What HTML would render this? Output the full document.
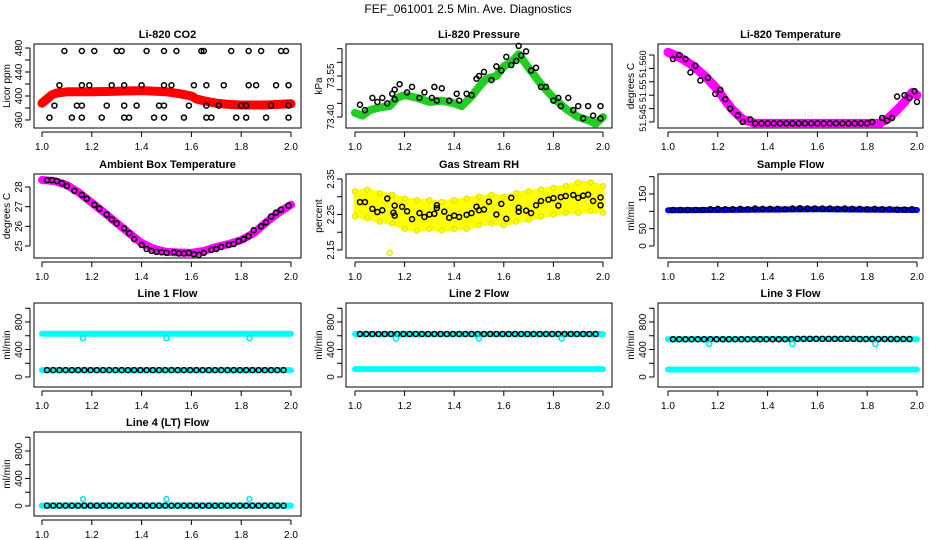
<!DOCTYPE html>
<html><head><meta charset="utf-8">
<style>
html,body{margin:0;padding:0;background:#fff;}
svg{display:block;font-family:"Liberation Sans",Arial,sans-serif;}
</style></head>
<body>
<svg id="chart" width="936" height="540" viewBox="0 0 936 540" xmlns="http://www.w3.org/2000/svg">
<rect width="936" height="540" fill="#fff"/>
<text x="468" y="13" text-anchor="middle" font-size="12">FEF_061001  2.5 Min. Ave. Diagnostics</text>
</svg>
<script>
// ---- data ----
const xTicks = [1.0,1.2,1.4,1.6,1.8,2.0];
const xTickLabels = ["1.0","1.2","1.4","1.6","1.8","2.0"];

const co2RedX = [1.0,1.02,1.04,1.06,1.1,1.2,1.3,1.4,1.5,1.55,1.6,1.62,1.65,1.7,1.75,1.8,1.9,2.0];
const co2RedY = [388,395,402,405,407,407,408,409,407,404,400,395,392,388,386,385,385,387];
const co2BlackX = [1.09,1.16,1.21,1.30,1.32,1.42,1.49,1.54,1.64,1.65,1.76,1.83,1.88,1.96,1.98,
 1.07,1.16,1.19,1.28,1.33,1.40,1.49,1.52,1.61,1.66,1.73,1.83,1.86,1.94,1.99,
 1.05,1.14,1.16,1.26,1.33,1.38,1.47,1.49,1.59,1.66,1.71,1.80,1.82,1.92,1.99,
 1.03,1.12,1.16,1.24,1.33,1.35,1.45,1.49,1.57,1.66,1.68,1.78,1.82,1.90,1.99];
const co2BlackY = [475,475,475,475,475,475,475,475,475,475,475,475,475,475,475,
 418,418,418,418,418,418,418,418,418,418,418,418,418,418,418,
 384,384,384,384,384,384,384,384,384,384,384,384,384,384,384,
 364,364,364,364,364,364,364,364,364,364,364,364,364,364,364];

const presGreenX = [1.0,1.03,1.06,1.1,1.14,1.17,1.2,1.25,1.3,1.35,1.4,1.43,1.47,1.5,1.53,1.57,1.6,1.63,1.66,1.7,1.75,1.8,1.85,1.9,1.95,1.97,2.0];
const presGreenY = [73.415,73.405,73.425,73.435,73.44,73.47,73.48,73.47,73.455,73.46,73.45,73.44,73.475,73.51,73.54,73.55,73.585,73.60,73.63,73.58,73.52,73.47,73.43,73.40,73.385,73.375,73.40];
const presBlackX = [1.02,1.04,1.07,1.09,1.11,1.13,1.16,1.15,1.16,1.18,1.21,1.23,1.26,1.28,1.31,1.32,1.33,1.35,1.38,1.41,1.42,1.45,1.47,1.49,1.50,1.52,1.55,1.57,1.59,1.61,1.63,1.65,1.66,1.67,1.69,1.71,1.73,1.75,1.77,1.80,1.82,1.83,1.86,1.88,1.90,1.92,1.94,1.96,1.99,1.99];
const presBlackY = [73.445,73.425,73.47,73.455,73.47,73.45,73.50,73.485,73.465,73.52,73.49,73.51,73.47,73.49,73.47,73.51,73.46,73.505,73.46,73.485,73.46,73.485,73.48,73.54,73.55,73.565,73.535,73.585,73.57,73.62,73.59,73.605,73.66,73.625,73.64,73.57,73.58,73.51,73.51,73.46,73.47,73.44,73.47,73.425,73.44,73.395,73.44,73.405,73.44,73.395];

const tempMagX = [1.0,1.05,1.1,1.15,1.18,1.2,1.23,1.26,1.3,1.35,1.5,1.7,1.85,1.88,1.92,1.95,1.98,2.0];
const tempMagY = [51.566,51.564,51.561,51.557,51.554,51.552,51.548,51.5445,51.541,51.5395,51.5395,51.5395,51.5395,51.541,51.5445,51.5475,51.551,51.550];
const tempBlackX = [1.02,1.045,1.07,1.09,1.11,1.13,1.16,1.19,1.21,1.23,1.25,1.28,1.30,1.33,1.35,1.375,1.4,1.425,1.45,1.475,1.5,1.525,1.55,1.575,1.6,1.625,1.65,1.675,1.7,1.725,1.75,1.775,1.8,1.82,1.86,1.88,1.90,1.92,1.95,1.97,1.99,2.0];
const tempBlackY = [51.5635,51.565,51.5635,51.5585,51.561,51.5555,51.5565,51.5505,51.552,51.5485,51.545,51.5425,51.540,51.541,51.5395,51.5395,51.5395,51.5395,51.5395,51.5395,51.5395,51.5395,51.5395,51.5395,51.5395,51.5395,51.5395,51.5395,51.5395,51.5395,51.5395,51.5395,51.5395,51.540,51.5415,51.5405,51.5415,51.5495,51.550,51.549,51.5515,51.5475];

const ambMagX = [1.0,1.05,1.1,1.15,1.2,1.25,1.3,1.35,1.4,1.45,1.5,1.55,1.6,1.65,1.7,1.75,1.8,1.85,1.9,1.95,2.0];
const ambMagY = [28.36,28.3,28.1,27.7,27.2,26.7,26.17,25.65,25.15,24.85,24.7,24.67,24.65,24.75,24.95,25.1,25.3,25.65,26.2,26.7,27.1];
const ambBlackX = [1.02,1.04,1.06,1.08,1.10,1.13,1.16,1.18,1.21,1.23,1.26,1.28,1.30,1.33,1.35,1.37,1.40,1.42,1.44,1.46,1.48,1.50,1.53,1.55,1.57,1.59,1.61,1.63,1.65,1.68,1.70,1.72,1.75,1.77,1.79,1.81,1.83,1.85,1.88,1.90,1.92,1.94,1.96,1.99];
const ambBlackY = [28.35,28.35,28.3,28.2,28.05,27.8,27.6,27.4,27.1,26.9,26.6,26.35,26.15,25.9,25.65,25.35,25.05,24.85,24.75,24.7,24.68,24.65,24.68,24.62,24.62,24.65,24.58,24.55,24.65,24.8,24.85,24.95,25.05,25.1,25.25,25.35,25.5,25.8,26.0,26.2,26.5,26.7,26.85,27.05];

const rhX = [1.0,1.05,1.1,1.15,1.2,1.25,1.3,1.35,1.4,1.45,1.5,1.55,1.6,1.65,1.7,1.75,1.8,1.85,1.9,1.95,2.0];
const rhHi = [2.315,2.32,2.31,2.305,2.295,2.29,2.29,2.285,2.29,2.295,2.3,2.305,2.3,2.31,2.315,2.32,2.325,2.33,2.34,2.34,2.33];
const rhLo = [2.245,2.24,2.23,2.225,2.21,2.205,2.21,2.205,2.21,2.21,2.22,2.225,2.22,2.23,2.235,2.245,2.25,2.255,2.255,2.26,2.255];
const rhBlackX = [1.02,1.04,1.07,1.09,1.11,1.13,1.155,1.16,1.16,1.19,1.21,1.23,1.26,1.28,1.30,1.32,1.33,1.33,1.36,1.38,1.40,1.42,1.45,1.47,1.49,1.50,1.52,1.54,1.57,1.59,1.61,1.63,1.66,1.66,1.69,1.71,1.73,1.75,1.78,1.80,1.82,1.83,1.85,1.88,1.90,1.92,1.94,1.96,1.99,1.99];
const rhBlackY = [2.285,2.285,2.266,2.257,2.262,2.295,2.255,2.275,2.247,2.272,2.259,2.237,2.254,2.243,2.25,2.252,2.276,2.268,2.258,2.241,2.247,2.243,2.249,2.254,2.272,2.262,2.264,2.286,2.25,2.28,2.238,2.297,2.269,2.258,2.261,2.254,2.276,2.288,2.292,2.296,2.275,2.299,2.302,2.305,2.297,2.303,2.306,2.288,2.298,2.276];
const rhOutX = [1.14];
const rhOutY = [2.142];

const sampleX = [1.0,1.2,1.4,1.6,1.8,2.0];
const sampleBlue = [103,104,105,106,105,104];
const sampleBlackX = [1.02,1.05,1.08,1.11,1.14,1.17,1.20,1.23,1.26,1.29,1.32,1.35,1.38,1.41,1.44,1.47,1.50,1.53,1.56,1.59,1.62,1.65,1.68,1.71,1.74,1.77,1.80,1.83,1.86,1.89,1.92,1.95,1.98];
const sampleBlackY = [104,104,104,104,104,106,107,106,106,107,106,108,107,107,107,106,108,109,108,108,108,108,107,108,107,107,106,107,106,106,105,105,106];

const flowX = [1.0,1.25,1.5,1.75,2.0];
const dipX = [1.165,1.5,1.833];
const line1Cyan = [630,630,630,630,630];
const line1Black = [100,100,100,100,100];
const line1Dips = [565,565,565];
const line2Cyan = [115,115,115,115,115];
const line2Black = [625,625,625,625,625];
const line2Dips = [560,560,560];
const line3Cyan = [110,110,110,110,110];
const line3Black = [550,550,555,552,550];
const line3Dips = [480,480,480];
const line4Cyan = [5,5,5,5,5];
const line4Black = [5,5,5,5,5];
const line4Dips = [100,100,100];

// ---- drawing ----
const svg = document.getElementById('chart');
const NS = 'http://www.w3.org/2000/svg';
function mk(tag, attrs, parent){ const e=document.createElementNS(NS,tag); for(const k in attrs) e.setAttribute(k,attrs[k]); (parent||svg).appendChild(e); return e; }
function lin(d0,d1,r0,r1){ return v => r0+(v-d0)*(r1-r0)/(d1-d0); }

const cols = [{l:34,r:301,x0:42,x1:291},{l:346,r:612,x0:355,x1:603},{l:658,r:923,x0:668,x1:917}];
const rowTops = [44,174,303,432];

function panel(o){
  const c = cols[o.col], top = rowTops[o.row], bot = top+84;
  const g = mk('g',{});
  
  
  const sx = lin(1.0,2.0,c.x0,c.x1);
  const sy = lin(o.yd[0],o.yd[1],o.yr[0](top,bot),o.yr[1](top,bot));
  const t = mk('text',{x:(c.l+c.r)/2,y:top-6,'text-anchor':'middle','font-size':11,'font-weight':'bold'},g);
  t.textContent = o.title;
  
  
  const b = mk('rect',{x:c.l,y:top,width:c.r-c.l,height:bot-top,fill:'none',stroke:'#000','stroke-width':1},g);
  
  
  const xa = mk('g',{},g);
  
  
  mk('line',{x1:sx(1.0),x2:sx(2.0),y1:bot+4,y2:bot+4,stroke:'#000'},xa);
  xTicks.forEach((v,i)=>{
    mk('line',{x1:sx(v),x2:sx(v),y1:bot+4,y2:bot+9,stroke:'#000'},xa);
    const tl = mk('text',{x:sx(v),y:bot+22,'text-anchor':'middle','font-size':10},xa);
    tl.textContent = xTickLabels[i];
  });
  const ya = mk('g',{},g);
  
  
  const ax = c.l-4;
  mk('line',{x1:ax,x2:ax,y1:sy(o.yt[0]),y2:sy(o.yt[o.yt.length-1]),stroke:'#000'},ya);
  o.yt.forEach(v=>mk('line',{x1:ax-5,x2:ax,y1:sy(v),y2:sy(v),stroke:'#000'},ya));
  const fs = o.yfs || 10;
  o.yl.forEach(v=>{
    const y = sy(v[0]);
    const tl = mk('text',{x:ax-8,y:y,'text-anchor':'middle','font-size':fs,transform:`rotate(-90 ${ax-8} ${y})`},ya);
    tl.textContent = v[1];
  });
  const yt = mk('text',{x:c.l-24,y:(top+bot)/2,'text-anchor':'middle','font-size':10,transform:`rotate(-90 ${c.l-24} ${(top+bot)/2})`},g);
  yt.textContent = o.ylab;
  
  
  return {g,sx,sy};
}
function band(p, xs, ys, color, w, name){
  const pl = mk('polyline',{points:xs.map((x,i)=>p.sx(x)+','+p.sy(ys[i])).join(' '),fill:'none',stroke:color,'stroke-width':w,'stroke-linejoin':'round','stroke-linecap':'round'},p.g);
  
  
}
function pts(p, xs, ys, color, name, r){
  const g = mk('g',{},p.g);
  
  
  xs.forEach((x,i)=>mk('circle',{cx:p.sx(x),cy:p.sy(ys[i]),r:r||2.5,fill:'none',stroke:color,'stroke-width':1.5},g));
}
function rng(a,b,s){const r=[];for(let v=a;v<=b+1e-9;v+=s)r.push(+v.toFixed(6));return r;}

// CO2
let p = panel({name:'co2-panel',col:0,row:0,title:'Li-820 CO2',ylab:'Licor ppm',yd:[480,360],yr:[()=>48,()=>120],
  yt:[360,380,400,420,440,460,480],yl:[[360,'360'],[400,'400'],[440,'440'],[480,'480']]});
band(p,co2RedX,co2RedY,'#ff0000',9,'co2-red-series');
pts(p,co2RedX,co2RedY,'#ff0000','co2-red-points');
pts(p,co2BlackX,co2BlackY,'#000','co2-black-points');

// Pressure
p = panel({name:'pressure-panel',col:1,row:0,title:'Li-820 Pressure',ylab:'kPa',yd:[73.40,73.55],yr:[()=>117,()=>76],
  yt:[73.40,73.45,73.50,73.55,73.60,73.65],yl:[[73.40,'73.40'],[73.55,'73.55']]});
band(p,presGreenX,presGreenY,'#22cc22',8,'pressure-green-series');
pts(p,presBlackX,presBlackY,'#000','pressure-black-points');

// Temperature
p = panel({name:'licor-temp-panel',col:2,row:0,title:'Li-820 Temperature',ylab:'degrees C',yd:[51.540,51.565],yr:[()=>122,()=>55],yfs:9,
  yt:[51.540,51.545,51.550,51.555,51.560,51.565],yl:[[51.5415,'51.545'],[51.5516,'51.55'],[51.5616,'51.560']]});
band(p,tempMagX,tempMagY,'#ff00ff',9,'licor-temp-magenta-series');
pts(p,tempBlackX,tempBlackY,'#000','licor-temp-black-points');

// Ambient
p = panel({name:'ambient-temp-panel',col:0,row:1,title:'Ambient Box Temperature',ylab:'degrees C',yd:[28,25],yr:[()=>187,()=>246],
  yt:[25,26,27,28],yl:[[25,'25'],[26,'26'],[27,'27'],[28,'28']]});
band(p,ambMagX,ambMagY,'#ff00ff',8,'ambient-magenta-series');
pts(p,ambBlackX,ambBlackY,'#000','ambient-black-points');

// RH
p = panel({name:'rh-panel',col:1,row:1,title:'Gas Stream RH',ylab:'percent',yd:[2.35,2.15],yr:[()=>179,()=>250],
  yt:[2.15,2.20,2.25,2.30,2.35],yl:[[2.15,'2.15'],[2.25,'2.25'],[2.35,'2.35']]});
{
  const poly = rhX.map((x,i)=>p.sx(x)+','+p.sy(rhHi[i])).concat(rhX.slice().reverse().map((x,j)=>p.sx(x)+','+p.sy(rhLo[rhX.length-1-j]))).join(' ');
  const bp = mk('polygon',{points:poly,fill:'#ffff00',stroke:'#ffff00','stroke-width':3,'stroke-linejoin':'round'},p.g);
  
  
  pts(p,rhX,rhHi,'#e8e800','rh-yellow-high-points');
  pts(p,rhX,rhLo,'#e8e800','rh-yellow-low-points');
  pts(p,rhOutX,rhOutY,'#e8e800','rh-outlier');
  pts(p,rhBlackX,rhBlackY,'#000','rh-black-points');
}

// Sample flow
p = panel({name:'sample-flow-panel',col:2,row:1,title:'Sample Flow',ylab:'ml/min',yd:[0,150],yr:[()=>246,()=>194],
  yt:[0,50,100,150,200],yl:[[0,'0'],[50,'50'],[150,'150']]});
band(p,sampleX,sampleBlue,'#0000ff',6,'sample-blue-series');
pts(p,sampleBlackX,sampleBlackY,'#000','sample-black-points');

// Line flows
const flowPanels = [
  {name:'line1-flow-panel',col:0,row:2,title:'Line 1 Flow',cy:line1Cyan,bk:line1Black,dp:line1Dips},
  {name:'line2-flow-panel',col:1,row:2,title:'Line 2 Flow',cy:line2Cyan,bk:line2Black,dp:line2Dips},
  {name:'line3-flow-panel',col:2,row:2,title:'Line 3 Flow',cy:line3Cyan,bk:line3Black,dp:line3Dips},
  {name:'line4-flow-panel',col:0,row:3,title:'Line 4 (LT) Flow',cy:line4Cyan,bk:line4Black,dp:line4Dips}
];
const blackMarkX = rng(1.02,1.99,0.025);
flowPanels.forEach(f=>{
  const q = panel({name:f.name,col:f.col,row:f.row,title:f.title,ylab:'ml/min',yd:[0,800],yr:[(t,b)=>b-10,(t,b)=>t+19],
    yt:[0,200,400,600,800,1000],yl:[[0,'0'],[400,'400'],[800,'800']]});
  band(q,flowX,f.cy,'#00ffff',6,'cyan-series');
  const by = blackMarkX.map(x=>{let k=Math.min(flowX.length-2,Math.floor((x-1)/0.25));return f.bk[k];});
  band(q,flowX,f.bk,'#00ffff',6,'black-series-underlay');
  pts(q,blackMarkX,by,'#000','black-series-points');
  pts(q,dipX,f.dp,'#00e5e5','cyan-dip-points');
});
</script>
</body></html>
